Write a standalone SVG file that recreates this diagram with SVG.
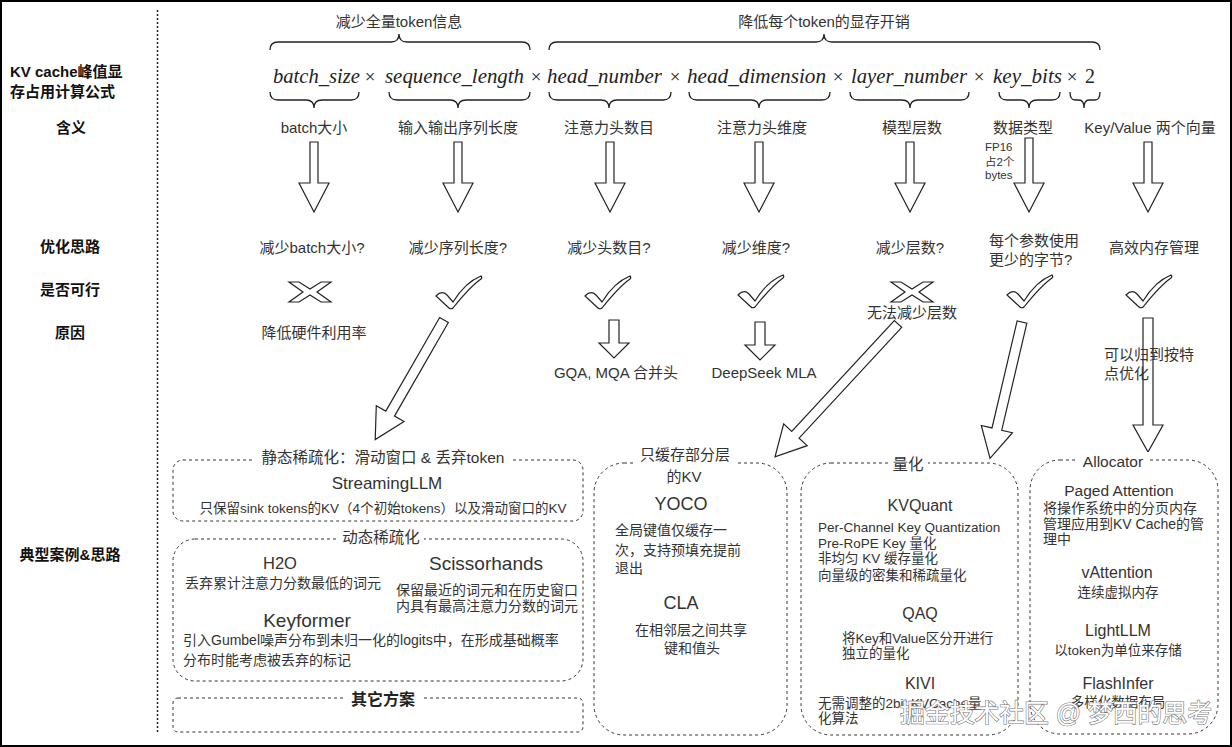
<svg xmlns="http://www.w3.org/2000/svg" width="1232" height="747" viewBox="0 0 1232 747">
<style>
text{font-family:"Liberation Sans","Noto Sans CJK SC",sans-serif;fill:#333}
.m{text-anchor:middle}
.l15{font-size:15px}
.hd{font-size:15px;font-weight:bold;fill:#111;text-anchor:middle}
.fx{font-family:"Liberation Serif","DejaVu Serif",serif;font-style:italic;font-size:20px;fill:#222}
.op{font-family:"Liberation Serif","DejaVu Serif",serif;font-size:19px;fill:#222;text-anchor:middle}
.br{fill:none;stroke:#222;stroke-width:1.3}
.box{fill:none;stroke:#333;stroke-width:1;stroke-dasharray:3 3}
.arr{fill:#fff;stroke:#222;stroke-width:1.2}
.t14{font-size:14px}
.t13{font-size:13.5px}
.ttl{font-size:17px}
.bg{fill:#fff}
</style>
<defs>
<path id="darr" d="M-4,0 H4 V41 H15 L0,70 L-15,41 H-4 Z"/>
<path id="sarr" d="M-5,0 H5 V23 H15 L0,38 L-15,23 H-5 Z"/>
<path id="chk" d="M-23,4 C-19,0 -15,0 -12,3 L-6,10 C2,-3 12,-12 22,-16 C23,-15 23,-14 22,-13 C12,-6 2,6 -6,16 C-7,17 -9,17 -10,16 Z"/>
<path id="xm" d="M-21,-10 L-11,-10 L0,-3 L11,-10 L21,-10 L7,0 L21,10 L11,10 L0,3 L-11,10 L-21,10 L-7,0 Z"/>
</defs>

<rect x="1" y="1" width="1230" height="745" fill="#fff" stroke="#000" stroke-width="2"/>
<line x1="157.5" y1="10" x2="157.5" y2="732" stroke="#222" stroke-width="1.5" stroke-dasharray="2 2"/>

<g id="left-labels">
<text x="10" y="77" style="font-size:15px;font-weight:bold;fill:#111">KV cache峰值显</text>
<text x="10" y="97" style="font-size:15px;font-weight:bold;fill:#111">存占用计算公式</text>
<text class="hd" x="71" y="133">含义</text>
<text class="hd" x="70" y="252">优化思路</text>
<text class="hd" x="70" y="295">是否可行</text>
<text class="hd" x="70" y="338">原因</text>
<text class="hd" x="70" y="560">典型案例&amp;思路</text>
</g>

<g id="formula">
<text class="l15 m" x="399" y="27">减少全量token信息</text>
<text class="l15 m" x="824" y="27">降低每个token的显存开销</text>
<path class="br" d="M270,50 Q270,42 278,42 L391,42 Q399,42 399,34 Q399,42 407,42 L522,42 Q530,42 530,50"/>
<path class="br" d="M549,50 Q549,42 557,42 L816,42 Q824,42 824,34 Q824,42 832,42 L1092,42 Q1100,42 1100,50"/>
<text class="fx" x="273" y="83" textLength="87" lengthAdjust="spacingAndGlyphs">batch_size</text>
<text class="op" x="370" y="83">×</text>
<text class="fx" x="385" y="83" textLength="139" lengthAdjust="spacingAndGlyphs">sequence_length</text>
<text class="op" x="536" y="83">×</text>
<text class="fx" x="547" y="83" textLength="115" lengthAdjust="spacingAndGlyphs">head_number</text>
<text class="op" x="675" y="83">×</text>
<text class="fx" x="687" y="83" textLength="139" lengthAdjust="spacingAndGlyphs">head_dimension</text>
<text class="op" x="838" y="83">×</text>
<text class="fx" x="851" y="83" textLength="116" lengthAdjust="spacingAndGlyphs">layer_number</text>
<text class="op" x="979" y="83">×</text>
<text class="fx" x="993" y="83" textLength="69" lengthAdjust="spacingAndGlyphs">key_bits</text>
<text class="op" x="1072" y="83">×</text>
<text class="op" x="1090" y="83" style="font-size:20px">2</text>
<path class="br" d="M270,92 Q270,100 278,100 L306,100 Q314,100 314,108 Q314,100 322,100 L351,100 Q359,100 359,92"/>
<path class="br" d="M389,92 Q389,100 397,100 L450,100 Q458,100 458,108 Q458,100 466,100 L522,100 Q530,100 530,92"/>
<path class="br" d="M549,92 Q549,100 557,100 L601,100 Q609,100 609,108 Q609,100 617,100 L663,100 Q671,100 671,92"/>
<path class="br" d="M689,92 Q689,100 697,100 L751,100 Q759,100 759,108 Q759,100 767,100 L822,100 Q830,100 830,92"/>
<path class="br" d="M850,92 Q850,100 858,100 L902,100 Q910,100 910,108 Q910,100 918,100 L961,100 Q969,100 969,92"/>
<path class="br" d="M999,92 Q999,100 1007,100 L1021,100 Q1029,100 1029,108 Q1029,100 1037,100 L1052,100 Q1060,100 1060,92"/>
<path class="br" d="M1070,92 Q1070,100 1075,100 L1079,100 Q1084,100 1084,108 Q1084,100 1089,100 L1095,100 Q1100,100 1100,92"/>
</g>

<g id="meaning">
<text class="l15 m" x="314" y="133">batch大小</text>
<text class="l15 m" x="458" y="133">输入输出序列长度</text>
<text class="l15 m" x="609" y="133">注意力头数目</text>
<text class="l15 m" x="762" y="133">注意力头维度</text>
<text class="l15 m" x="912" y="133">模型层数</text>
<text class="l15 m" x="1023" y="133">数据类型</text>
<text class="l15 m" x="1150" y="133">Key/Value 两个向量</text>
<text x="985" y="151" style="font-size:11.5px">FP16</text>
<text x="985" y="166" style="font-size:11.5px">占2个</text>
<text x="985" y="179" style="font-size:11.5px">bytes</text>
</g>

<g id="optimization">
<text class="l15 m" x="312" y="253">减少batch大小?</text>
<text class="l15 m" x="458" y="253">减少序列长度?</text>
<text class="l15 m" x="609" y="253">减少头数目?</text>
<text class="l15 m" x="756" y="253">减少维度?</text>
<text class="l15 m" x="910" y="253">减少层数?</text>
<text class="l15" x="989" y="246">每个参数使用</text>
<text class="l15" x="989" y="265">更少的字节?</text>
<text class="l15 m" x="1154" y="253">高效内存管理</text>
</g>

<g id="feasibility">
<use href="#xm" x="310" y="292" class="arr"/>
<use href="#chk" x="459" y="292" class="arr"/>
<use href="#chk" x="608" y="292" class="arr"/>
<use href="#chk" x="761" y="291" class="arr"/>
<use href="#xm" x="912" y="292" class="arr"/>
<use href="#chk" x="1030" y="291" class="arr"/>
<use href="#chk" x="1149" y="291" class="arr"/>
</g>

<g id="reasons">
<text class="l15 m" x="314" y="338">降低硬件利用率</text>
<text class="l15 m" x="912" y="318">无法减少层数</text>
<text class="l15 m" x="616" y="378">GQA, MQA 合并头</text>
<text class="l15 m" x="764" y="378">DeepSeek MLA</text>
</g>

<g id="connectors">
<use href="#darr" x="314" y="142" class="arr"/>
<use href="#darr" x="458" y="142" class="arr"/>
<use href="#darr" x="610" y="142" class="arr"/>
<use href="#darr" x="759" y="142" class="arr"/>
<use href="#darr" x="910" y="142" class="arr"/>
<path class="arr" d="M1025,138 H1033 V183 H1044 L1029,212 L1014,183 H1025 Z"/>
<use href="#darr" x="1148" y="142" class="arr"/>
<use href="#sarr" x="614" y="320" class="arr"/>
<use href="#sarr" x="760" y="322" class="arr"/>
<path class="arr" transform="translate(444,320) rotate(119.9)" d="M0,-5 L108,-5 L108,-16 L138,0 L108,16 L108,5 L0,5 Z"/>
<path class="arr" transform="translate(898,324) rotate(132.8)" d="M0,-5 L151,-5 L151,-16 L181,0 L151,16 L151,5 L0,5 Z"/>
<path class="arr" transform="translate(1022,322) rotate(103.2)" d="M0,-5 L110,-5 L110,-16 L140,0 L110,16 L110,5 L0,5 Z"/>
<path class="arr" d="M1143,318 H1153 V425 H1163 L1148,452 L1133,425 H1143 Z"/>
<text class="l15" x="1104" y="360">可以归到按特</text>
<text class="l15" x="1104" y="379">点优化</text>
</g>

<g id="static-sparse">
<rect class="box" x="173" y="460" width="410" height="61" rx="10"/>
<rect class="bg" x="255" y="449" width="258" height="17"/>
<text class="m" x="383" y="463" style="font-size:15.5px">静态稀疏化：滑动窗口 &amp; 丢弃token</text>
<text class="m ttl" x="387" y="489">StreamingLLM</text>
<text class="m t13" x="383" y="513">只保留sink tokens的KV（4个初始tokens）以及滑动窗口的KV</text>
</g>

<g id="dynamic-sparse">
<rect class="box" x="173" y="539" width="410" height="142" rx="22"/>
<rect class="bg" x="338" y="529" width="86" height="17"/>
<text class="m" x="381" y="543" style="font-size:15.5px">动态稀疏化</text>
<text class="m" x="280" y="569" style="font-size:16.5px">H2O</text>
<text class="t14" x="185" y="588">丢弃累计注意力分数最低的词元</text>
<text class="m" x="486" y="570" style="font-size:19px">Scissorhands</text>
<text class="t14" x="396" y="595">保留最近的词元和在历史窗口</text>
<text class="t14" x="396" y="611">内具有最高注意力分数的词元</text>
<text class="m" x="307" y="627" style="font-size:19px">Keyformer</text>
<text class="t14" x="183" y="645">引入Gumbel噪声分布到未归一化的logits中，在形成基础概率</text>
<text class="t14" x="183" y="665">分布时能考虑被丢弃的标记</text>
</g>

<g id="other">
<rect class="box" x="173" y="698" width="410" height="34" rx="5"/>
<rect class="bg" x="343" y="690" width="80" height="17"/>
<text class="m" x="383" y="705" style="font-size:16px;font-weight:bold;fill:#222">其它方案</text>
</g>

<g id="partial-layers">
<rect class="box" x="594" y="463" width="193" height="272" rx="30"/>
<rect class="bg" x="635" y="446" width="100" height="40"/>
<text class="m" x="685" y="460" style="font-size:15px">只缓存部分层</text>
<text class="m" x="684" y="482" style="font-size:15px">的KV</text>
<text class="m" x="681" y="510" style="font-size:18px">YOCO</text>
<text class="t14" x="615" y="535">全局键值仅缓存一</text>
<text class="t14" x="615" y="555">次，支持预填充提前</text>
<text class="t14" x="615" y="573">退出</text>
<text class="m" x="681" y="609" style="font-size:18px">CLA</text>
<text class="m t14" x="691" y="635">在相邻层之间共享</text>
<text class="m t14" x="692" y="653">键和值头</text>
</g>

<g id="quantization">
<rect class="box" x="801" y="463" width="217" height="272" rx="30"/>
<rect class="bg" x="888" y="455" width="40" height="17"/>
<text class="m" x="908" y="470" style="font-size:15.5px">量化</text>
<text class="m" x="920" y="511" style="font-size:16px">KVQuant</text>
<text class="t13" x="818" y="532">Per-Channel Key Quantization</text>
<text class="t13" x="818" y="548">Pre-RoPE Key 量化</text>
<text class="t13" x="818" y="563">非均匀 KV 缓存量化</text>
<text class="t13" x="818" y="580">向量级的密集和稀疏量化</text>
<text class="m" x="920" y="619" style="font-size:16px">QAQ</text>
<text class="t13" x="842" y="643">将Key和Value区分开进行</text>
<text class="t13" x="842" y="658">独立的量化</text>
<text class="m" x="920" y="689" style="font-size:16px">KIVI</text>
<text class="t13" x="818" y="708">无需调整的2bit KVCache量</text>
<text class="t13" x="818" y="723">化算法</text>
</g>

<g id="allocator">
<rect class="box" x="1030" y="460" width="188" height="274" rx="30"/>
<rect class="bg" x="1078" y="452" width="72" height="17"/>
<text class="m" x="1113" y="467" style="font-size:15.5px">Allocator</text>
<text class="m" x="1119" y="496" style="font-size:15.5px">Paged Attention</text>
<text class="t14" x="1043" y="513">将操作系统中的分页内存</text>
<text class="t14" x="1043" y="529">管理应用到KV Cache的管</text>
<text class="t14" x="1043" y="544">理中</text>
<text class="m" x="1117" y="578" style="font-size:16px">vAttention</text>
<text class="m t13" x="1118" y="597">连续虚拟内存</text>
<text class="m" x="1118" y="636" style="font-size:16px">LightLLM</text>
<text class="m t13" x="1118" y="655">以token为单位来存储</text>
<text class="m" x="1118" y="689" style="font-size:16px">FlashInfer</text>
<text class="m t13" x="1118" y="707">多样化数据布局</text>
</g>

<text x="900" y="722" textLength="312" lengthAdjust="spacingAndGlyphs" style="font-size:25px;fill:#fff;stroke:#777;stroke-width:1.2;paint-order:stroke">掘金技术社区 @ 梦西的思考</text>
</svg>
